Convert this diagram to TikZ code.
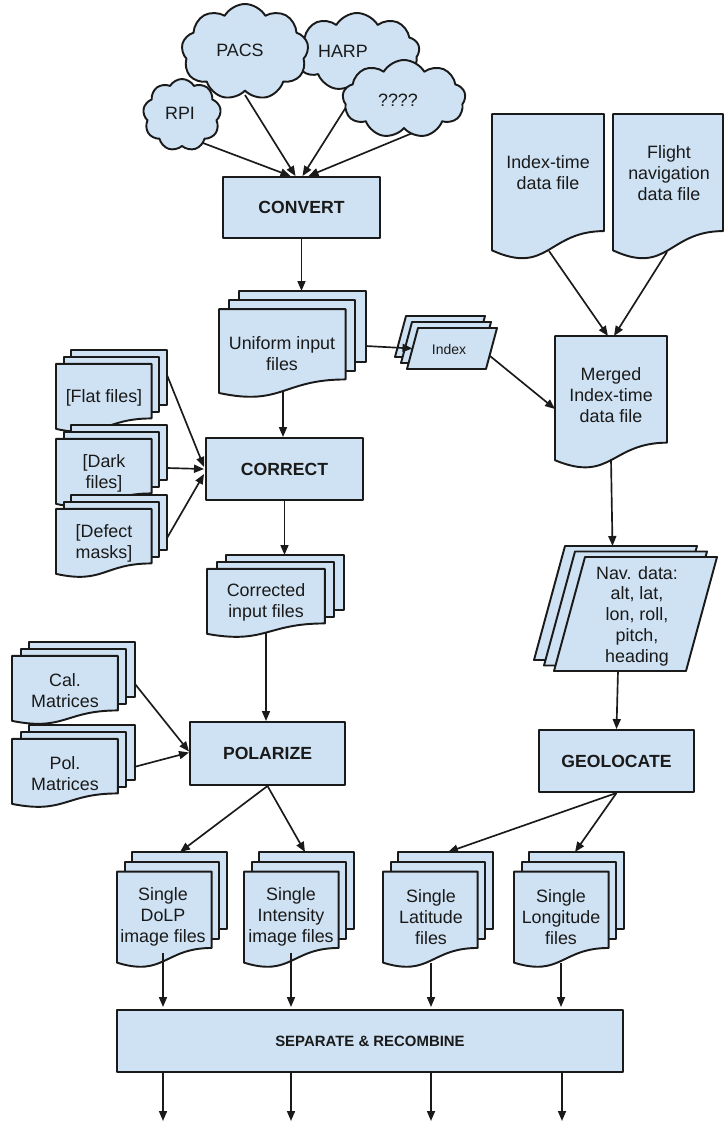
\documentclass[tikz,border=0pt]{standalone}
\usepackage{fontspec}
\setmainfont{Liberation Sans}
\usetikzlibrary{shapes.symbols,arrows.meta,calc}

\definecolor{paleblue}{HTML}{CFE2F3}
\definecolor{ink}{HTML}{1A1A1A}

\pgfdeclarelayer{behind}
\pgfsetlayers{behind,main}

\tikzset{
  shp/.style={draw=ink, fill=paleblue, line width=1.45pt, line join=round},
  conn/.style={draw=ink, line width=1.25pt, -{Triangle[length=7.5pt,width=6pt]}},
  hold/.style={inner sep=0pt, outer sep=0pt, draw=none, fill=none},
  lbl/.style={align=center, inner sep=0pt, text=ink, font=\fontsize{13.4}{15.6}\selectfont},
  small/.style={lbl, font=\fontsize{10.5}{12}\selectfont},
  proc/.style={shp, inner sep=0pt, text=ink, font=\bfseries\fontsize{13.2}{15.6}\selectfont},
  puff/.style={shp, cloud, cloud puffs=9, cloud puff arc=120, inner sep=0pt, cloud ignores aspect},
}

% process box: [style] name, x1, y1, x2, y2, text
\newcommand\procbox[7][]{%
  \node[proc, minimum width={(#5-#3)*0.75pt}, minimum height={(#6-#4)*0.75pt}, #1]
    (#2) at ({(#3+#5)/2},{(#4+#6)/2}) {#7};}

% single document: name, x, y, w, h
\newcommand\docfile[5]{%
  \path[shp] (#2,#3) -- ({#2+#4},#3) -- ({#2+#4},{#3+0.802*#5})
     .. controls ({#2+0.5*#4},{#3+0.802*#5}) and ({#2+0.5*#4},{#3+1.108*#5}) ..
     (#2,{#3+0.934*#5}) -- cycle;
  \node[hold, minimum width={#4*0.75pt}, minimum height={#5*0.75pt}]
    (#1) at ({#2+0.5*#4},{#3+0.5*#5}) {};}

% stack of three documents: name, x, y, w, h
\newcommand\multidoc[5]{%
  \path[shp] ({#2+0.1376*#4},#3) -- ({#2+#4},#3) -- ({#2+#4},{#3+0.6663*#5})
     -- ({#2+0.1376*#4},{#3+0.6663*#5}) -- cycle;
  \path[shp] ({#2+0.0709*#4},{#3+0.084*#5}) -- ({#2+0.9259*#4},{#3+0.084*#5})
     -- ({#2+0.9259*#4},{#3+0.7524*#5}) -- ({#2+0.0709*#4},{#3+0.7524*#5}) -- cycle;
  \path[shp] (#2,{#3+0.1701*#5}) -- ({#2+0.8609*#4},{#3+0.1701*#5})
     -- ({#2+0.8609*#4},{#3+0.8344*#5})
     .. controls ({#2+0.4305*#4},{#3+0.8344*#5}) and ({#2+0.4305*#4},{#3+1.0899*#5}) ..
     (#2,{#3+0.962*#5}) -- cycle;
  \node[hold, minimum width={#4*0.75pt}, minimum height={#5*0.75pt}]
    (#1) at ({#2+0.5*#4},{#3+0.5*#5}) {};}

% stack of three parallelograms: name, front bottom-left x, y, w, h, slant, layer dx, layer dy
\newcommand\parastack[8]{%
  \foreach \k in {2,1,0}{
    \path[shp] ({#2+\k*#7},{#3+\k*#8}) -- ++(#6,-#5) -- ++(#4,0) -- ++(-#6,#5) -- cycle;
  }
  \node[hold, minimum width={(#4+#6)*0.75pt}, minimum height={#5*0.75pt}]
    (#1) at ({#2+0.5*#4+0.5*#6},{#3-0.5*#5}) {};}

\begin{document}
\begin{tikzpicture}[x=0.75pt, y=-0.75pt]
\useasboundingbox (0,0) rectangle (724,1122);

% ---------- data sources ----------
\node[puff, minimum width=125*0.75pt, minimum height=78*0.75pt] (harp) at (357,52) {};
\node[puff, minimum width=127*0.75pt, minimum height=96*0.75pt] (pacs) at (245,52) {};
\node[puff, minimum width=123*0.75pt, minimum height=78*0.75pt] (unknown) at (404,99) {};
\node[puff, minimum width=78*0.75pt, minimum height=72*0.75pt] (rpi) at (182,115) {};
\node[lbl] (harp-t) at (343,51) {HARP};
\node[lbl] (pacs-t) at (240,50) {PACS};
\node[lbl] (unknown-t) at (398,100) {????};
\node[lbl] (rpi-t) at (180,113) {RPI};

\procbox{convert}{223}{177}{380}{238}{CONVERT}

\begin{pgfonlayer}{behind}
  \draw[conn] ($(rpi.center)+(13,25)$) -- ($(convert.north)+(-11,0)$);
  \draw[conn] ($(pacs.center)+(0,43)$) -- ($(convert.north)+(-6,0)$);
  \draw[conn] ($(harp.center)+(3,33)$) -- ($(convert.north)+(1,0)$);
  \draw[conn] ($(unknown.center)+(11,33)$) -- ($(convert.north)+(7,0)$);
\end{pgfonlayer}

% ---------- left column ----------
\multidoc{uni}{219}{291}{147}{106}
\node[lbl] (uni-t) at (282,354) {Uniform input\\files};
\draw[conn] (convert.south) -- (convert.south |- uni.north);

\parastack{idx}{407}{369}{79}{41}{11}{-6}{-6}
\node[small] (idx-t) at (449,349) {Index};
\draw[conn] ($(uni.north east)+(0,55)$) -- ($(idx.west)+(5.5,0)$);

\procbox{correct}{206}{438}{363}{500}{CORRECT}
\draw[conn] ($(uni.south)+(-9.5,-6)$) -- ($(correct.north)+(-1.5,0)$);

\multidoc{flat}{56}{350}{111}{82}
\node[lbl] (flat-t) at (104,398) {[Flat files]};
\multidoc{dark}{56}{425}{111}{82}
\node[lbl] (dark-t) at (104,473) {[Dark\\files]};
\multidoc{defect}{56}{495}{111}{82}
\node[lbl] (defect-t) at (104,543) {[Defect\\masks]};

\draw[conn] ($(flat.north east)+(0,25)$) -- ($(correct.west)+(-1,-2)$);
\draw[conn] ($(dark.north east)+(0,43)$) -- ($(correct.west)+(-1,0)$);
\draw[conn] ($(defect.north east)+(0,43)$) -- ($(correct.west)+(-1,5)$);

\multidoc{corr}{207}{555}{137}{82}
\node[lbl] (corr-t) at (266,602) {Corrected\\input files};
\draw[conn] (correct.south) -- ($(corr.north)+(9,0)$);

\procbox{polarize}{190}{722}{345}{785}{POLARIZE}
\draw[conn] ($(corr.south)+(-9.5,-4)$) -- ($(polarize.north)+(-1.5,0)$);

\multidoc{cal}{12}{642}{123}{82}
\node[lbl] (cal-t) at (65,691) {Cal.\\Matrices};
\multidoc{pol}{12}{725}{123}{82}
\node[lbl] (pol-t) at (65,774) {Pol.\\Matrices};
\draw[conn] ($(cal.north east)+(0,42)$) -- ($(polarize.west)+(0,-2)$);
\draw[conn] ($(pol.north east)+(-1,42)$) -- ($(polarize.west)+(0,-1)$);

% ---------- right column ----------
\docfile{itime}{492}{114}{112}{146}
\node[lbl] (itime-t) at (548,173) {Index-time\\data file};
\docfile{flight}{613}{114}{110}{146}
\node[lbl] (flight-t) at (669,173) {Flight\\navigation\\data file};

\docfile{merged}{555}{336}{112}{133}
\node[lbl] (merged-t) at (611,395) {Merged\\Index-time\\data file};
\draw[conn] ($(itime.south)+(1,-9)$) -- ($(merged.north)+(-3,0)$);
\draw[conn] ($(flight.south)+(-1,-8)$) -- ($(merged.north)+(3,0)$);
\draw[conn] ($(idx.east)+(-7,7.5)$) -- ($(merged.west)+(0,6.5)$);

\parastack{nav}{554}{671}{132}{114}{31}{-10}{-5.5}
\node[lbl] (nav-t) at (637,616) {Nav. data:\\alt, lat,\\lon, roll,\\pitch,\\heading};
\draw[conn] ($(merged.south)+(0,-10)$) -- ($(nav.north)+(-23,-11)$);

\procbox{geo}{539}{730}{694}{792}{GEOLOCATE}
\draw[conn] ($(nav.south)+(-17.5,0)$) -- (geo.north);

% ---------- per-image products ----------
\multidoc{dolp}{117}{852}{110}{115}
\node[lbl] (dolp-t) at (163,917) {Single\\DoLP\\image files};
\multidoc{inten}{244}{852}{110}{115}
\node[lbl] (inten-t) at (291,917) {Single\\Intensity\\image files};
\multidoc{lat}{383}{852}{110}{115}
\node[lbl] (lat-t) at (431,917) {Single\\Latitude\\files};
\multidoc{lon}{514}{852}{110}{115}
\node[lbl] (lon-t) at (561,917) {Single\\Longitude\\files};

\draw[conn] (polarize.south) -- ($(dolp.north)+(8,0)$);
\draw[conn] (polarize.south) -- ($(inten.north)+(6,0)$);
\draw[conn] (geo.south) -- ($(lat.north)+(10,0)$);
\draw[conn] (geo.south) -- ($(lon.north)+(6,0)$);

\procbox[font=\bfseries\fontsize{11.2}{13}\selectfont]{sep}{117}{1010}{623}{1072}{SEPARATE \& RECOMBINE}

\coordinate (in1) at ($(dolp.south)+(-9,-14)$);
\coordinate (in2) at ($(inten.south)+(-8,-14)$);
\coordinate (in3) at ($(lat.south)+(-7,-4)$);
\coordinate (in4) at ($(lon.south)+(-8,-4)$);
\foreach \p in {in1,in2,in3,in4}
  \draw[conn] (\p) -- ([yshift=1.5pt]\p |- sep.north);

\coordinate (out1) at (163,1121);
\coordinate (out2) at (291,1121);
\coordinate (out3) at (431,1121);
\coordinate (out4) at (562,1121);
\foreach \p in {out1,out2,out3,out4}
  \draw[conn] (\p |- sep.south) -- (\p);

\end{tikzpicture}
\end{document}
